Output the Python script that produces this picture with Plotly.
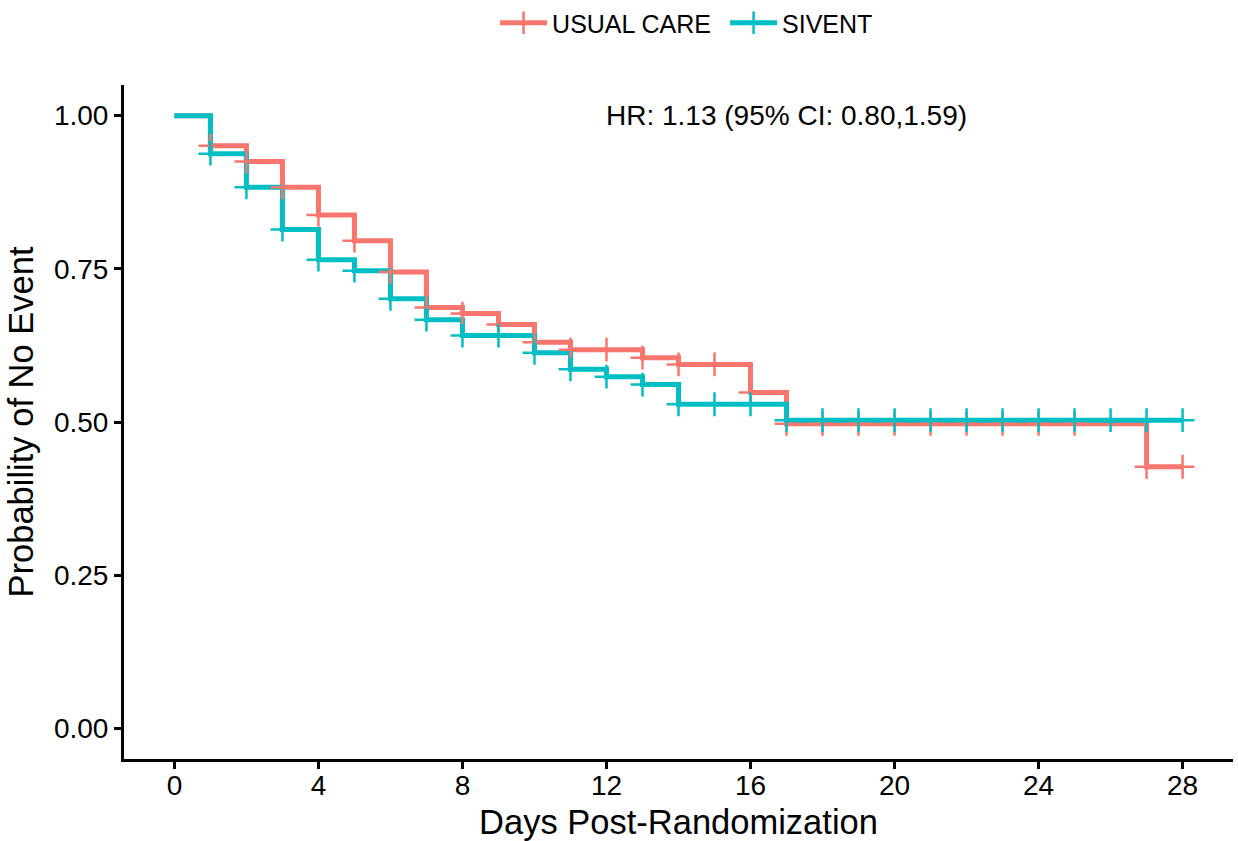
import plotly.graph_objects as go

# ---- data ----
days = list(range(0, 29))
usual_care = [1.000, 0.951, 0.925, 0.883, 0.838, 0.796, 0.745, 0.687, 0.677, 0.659,
              0.630, 0.618, 0.618, 0.605, 0.594, 0.594, 0.548, 0.497, 0.497, 0.497,
              0.497, 0.497, 0.497, 0.497, 0.497, 0.497, 0.497, 0.427, 0.427]
sivent = [1.000, 0.938, 0.883, 0.814, 0.765, 0.747, 0.701, 0.667, 0.641, 0.641,
          0.613, 0.586, 0.574, 0.561, 0.529, 0.529, 0.529, 0.503, 0.503, 0.503,
          0.503, 0.503, 0.503, 0.503, 0.503, 0.503, 0.503, 0.503, 0.503]
usual_censor_days = [d for d in range(1, 29) if d != 26]
sivent_censor_days = list(range(1, 29))

x_ticks = [0, 4, 8, 12, 16, 20, 24, 28]
y_ticks = [0, 0.25, 0.5, 0.75, 1.0]
hr_text = "HR: 1.13 (95% CI: 0.80,1.59)"

RED = "#F8766D"
TEAL = "#00BFC4"
FONT = "Liberation Sans, Arial, sans-serif"

fig = go.Figure()

groups = [("USUAL CARE", usual_care, usual_censor_days, RED),
          ("SIVENT", sivent, sivent_censor_days, TEAL)]

for name, surv, cdays, col in groups:
    fig.add_trace(go.Scatter(x=days, y=surv, mode="lines", line=dict(color=col, width=5, shape="hv"),
                             showlegend=False, hoverinfo="skip"))

for name, surv, cdays, col in groups:
    fig.add_trace(go.Scatter(x=cdays, y=[surv[d] for d in cdays], mode="markers",
                             marker=dict(symbol="cross-thin", size=17, line=dict(color=col, width=2.5)),
                             showlegend=False, hoverinfo="skip"))

for name, surv, cdays, col in groups:
    fig.add_trace(go.Scatter(x=[None], y=[None], mode="lines+markers", name=name,
                             line=dict(color=col, width=5),
                             marker=dict(symbol="cross-thin", size=16, line=dict(color=col, width=2.5))))

fig.add_annotation(x=17, y=1.0, text=hr_text, showarrow=False, xanchor="center", yanchor="middle",
                   font=dict(family=FONT, size=28, color="black"))

axis_common = dict(showline=True, linecolor="black", linewidth=3, ticks="outside", ticklen=7,
                   tickwidth=3, tickcolor="black", showgrid=False, zeroline=False,
                   tickfont=dict(family=FONT, size=28, color="black"), mirror=False)

fig.update_layout(
    width=1238, height=841,
    paper_bgcolor="white", plot_bgcolor="white",
    margin=dict(l=124, r=5, t=85, b=82, autoexpand=False),
    xaxis=dict(range=[-1.4, 29.4], tickvals=x_ticks, ticklabelstandoff=-8,
               title=dict(text="Days Post-Randomization", font=dict(family=FONT, size=34.5, color="black"), standoff=12),
               **axis_common),
    yaxis=dict(range=[-0.05, 1.05], tickvals=y_ticks, tickformat=".2f",
               title=dict(text="Probability of No Event", font=dict(family=FONT, size=34.5, color="black"), standoff=10),
               **axis_common),
    legend=dict(orientation="h", x=0.542, xanchor="center", y=1.0, yref="container", yanchor="top",
                font=dict(family=FONT, size=25, color="black"), itemwidth=47,
                entrywidth=168, entrywidthmode="pixels", bgcolor="rgba(0,0,0,0)"),
    font=dict(family=FONT, color="black"),
)

fig.write_html("out.html", config={"displayModeBar": False},
               post_script="document.body.style.margin='0px';document.body.style.overflow='hidden';")
